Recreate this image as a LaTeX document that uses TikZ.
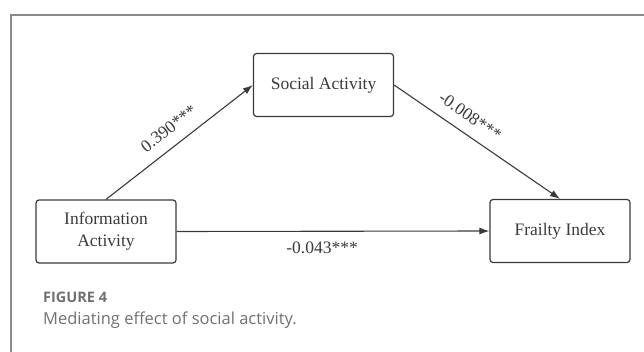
\documentclass[tikz,border=0pt]{standalone}
\usepackage{xcolor}
\usepackage{fontspec}
\setmainfont{Liberation Serif}
\newfontfamily\captionfont{Open Sans}
\usepackage{tikz}
\usetikzlibrary{arrows.meta,positioning}

\definecolor{boxline}{HTML}{3A3A3A}
\definecolor{captiongray}{HTML}{707070}
\definecolor{framegray}{HTML}{8A8A8A}

\begin{document}
\begin{tikzpicture}[
    x=1pt,
    y=-1pt,
    varbox/.style={
        rectangle,
        draw=boxline,
        line width=1.2pt,
        rounded corners=3pt,
        minimum width=140pt,
        minimum height=63pt,
        align=center,
        text=boxline,
        font=\fontsize{17.5}{22}\selectfont
    },
    path_arrow/.style={
        line width=1.1pt,
        draw=boxline,
        -{Latex[length=10pt,width=7pt]}
    },
    coef/.style={
        text=boxline,
        font=\fontsize{17.5}{21}\selectfont,
        inner sep=1pt
    }
]
\useasboundingbox (0,0) rectangle (644,352);

% Cadrul figurii
\draw[framegray, line width=1.5pt] (11,352) -- (11,15) -- (644,15);

% Variabilele modelului
\node[varbox] (social) at (323.5,85) {Social Activity};
\node[varbox] (info) at (106,231.5) {Information\\Activity};
\node[varbox] (frailty) at (560,231) {Frailty Index};

% Efectele directe si indirecte
\draw[path_arrow] (info.north) -- node[coef, sloped, above=10pt, pos=0.5] {0.390***} (social.west);
\draw[path_arrow] (social.east) -- node[coef, sloped, above=10pt, pos=0.4] {-0.008***} (frailty.north);
\draw[path_arrow] (info.east) -- node[coef, below=9pt, pos=0.465] {-0.043***} (frailty.west);

% Legenda
\node[anchor=base west, inner sep=0pt, text=captiongray, font=\captionfont\bfseries\fontsize{14.5}{17}\selectfont] (fignum) at (43,302) {FIGURE 4};
\node[anchor=base west, inner sep=0pt, text=captiongray, font=\captionfont\fontsize{16.5}{19}\selectfont] (figcap) at (43,324) {Mediating effect of social activity.};

\end{tikzpicture}
\end{document}
